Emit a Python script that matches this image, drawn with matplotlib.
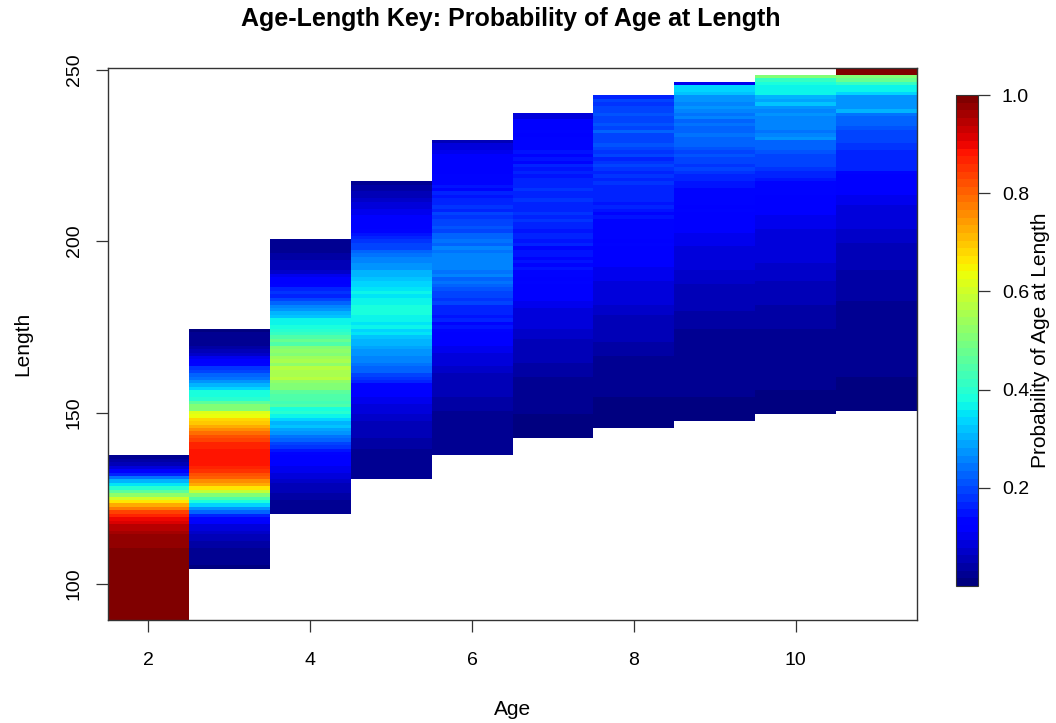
import numpy as np
import matplotlib
matplotlib.use("Agg")
import matplotlib.pyplot as plt

plt.rcParams['font.family'] = ['Liberation Sans', 'DejaVu Sans']

# === Données ===
ages = [2, 3, 4, 5, 6, 7, 8, 9, 10, 11]
# longueur maximale de chaque âge (les listes descendent d'un cm à chaque valeur)
top_lengths = [137, 174, 200, 217, 229, 237, 242, 246, 248, 250]

age2_probs = [0.02, 0.04, 0.06, 0.09, 0.12, 0.17, 0.24, 0.30, 0.35, 0.40,
              0.46, 0.53, 0.60, 0.66, 0.72, 0.78, 0.83, 0.87, 0.90, 0.92,
              0.94, 0.95, 0.96, 0.97, 0.98, 0.98, 0.98, 0.99, 0.99, 0.99,
              0.99, 0.99, 0.99, 1.00, 1.00, 1.00, 1.00, 1.00, 1.00, 1.00,
              1.00, 1.00, 1.00, 1.00, 1.00, 1.00, 1.00, 1.00]
age3_probs = [0.01, 0.02, 0.02, 0.03, 0.03, 0.04, 0.05, 0.07, 0.10, 0.12,
              0.14, 0.18, 0.20, 0.22, 0.24, 0.28, 0.30, 0.33, 0.38, 0.39,
              0.40, 0.46, 0.50, 0.50, 0.62, 0.64, 0.68, 0.70, 0.72, 0.76,
              0.79, 0.82, 0.84, 0.86, 0.87, 0.88, 0.88, 0.88, 0.88, 0.88,
              0.87, 0.85, 0.82, 0.80, 0.76, 0.72, 0.66, 0.58, 0.50, 0.44,
              0.38, 0.33, 0.28, 0.22, 0.17, 0.13, 0.11, 0.09, 0.08, 0.07,
              0.06, 0.05, 0.04, 0.04, 0.03, 0.03, 0.02, 0.02, 0.02, 0.01]
age4_probs = [0.02, 0.02, 0.03, 0.03, 0.04, 0.04, 0.05, 0.05, 0.06, 0.07,
              0.10, 0.11, 0.12, 0.13, 0.16, 0.18, 0.17, 0.20, 0.22, 0.26,
              0.28, 0.30, 0.32, 0.36, 0.37, 0.38, 0.40, 0.41, 0.44, 0.47,
              0.45, 0.50, 0.52, 0.50, 0.54, 0.56, 0.53, 0.57, 0.56, 0.55,
              0.57, 0.52, 0.50, 0.50, 0.46, 0.44, 0.45, 0.43, 0.44, 0.38,
              0.40, 0.36, 0.33, 0.30, 0.32, 0.29, 0.28, 0.24, 0.22, 0.20,
              0.18, 0.15, 0.13, 0.12, 0.11, 0.11, 0.10, 0.10, 0.09, 0.08,
              0.07, 0.06, 0.05, 0.05, 0.04, 0.04, 0.03, 0.03, 0.02, 0.02]
age5_probs = [0.03, 0.04, 0.04, 0.05, 0.06, 0.07, 0.08, 0.09, 0.10, 0.10,
              0.11, 0.11, 0.12, 0.12, 0.13, 0.15, 0.16, 0.18, 0.19, 0.20,
              0.22, 0.24, 0.26, 0.25, 0.27, 0.28, 0.30, 0.31, 0.32, 0.33,
              0.34, 0.35, 0.36, 0.35, 0.37, 0.36, 0.38, 0.39, 0.38, 0.36,
              0.37, 0.35, 0.36, 0.34, 0.35, 0.32, 0.30, 0.31, 0.29, 0.28,
              0.28, 0.26, 0.25, 0.24, 0.22, 0.22, 0.20, 0.18, 0.16, 0.14,
              0.13, 0.12, 0.11, 0.10, 0.10, 0.09, 0.08, 0.08, 0.07, 0.07,
              0.06, 0.06, 0.05, 0.05, 0.05, 0.04, 0.04, 0.04, 0.03, 0.03,
              0.03, 0.03, 0.02, 0.02, 0.02, 0.02, 0.02]
age6_probs = [0.06, 0.08, 0.09, 0.10, 0.11, 0.11, 0.12, 0.11, 0.12, 0.12,
              0.13, 0.14, 0.13, 0.15, 0.14, 0.16, 0.15, 0.17, 0.16, 0.18,
              0.17, 0.19, 0.18, 0.20, 0.19, 0.21, 0.20, 0.22, 0.22, 0.24,
              0.23, 0.25, 0.24, 0.26, 0.25, 0.26, 0.25, 0.26, 0.24, 0.25,
              0.23, 0.24, 0.22, 0.21, 0.20, 0.19, 0.18, 0.19, 0.17, 0.16,
              0.17, 0.15, 0.16, 0.14, 0.15, 0.13, 0.12, 0.12, 0.11, 0.11,
              0.10, 0.10, 0.09, 0.09, 0.08, 0.08, 0.07, 0.07, 0.06, 0.06,
              0.06, 0.05, 0.05, 0.05, 0.05, 0.04, 0.04, 0.04, 0.04, 0.03,
              0.03, 0.03, 0.03, 0.03, 0.03, 0.02, 0.02, 0.02, 0.02, 0.02,
              0.02, 0.02]
age7_probs = [0.08, 0.09, 0.11, 0.12, 0.11, 0.13, 0.12, 0.13, 0.13, 0.14,
              0.13, 0.15, 0.14, 0.15, 0.14, 0.16, 0.15, 0.16, 0.15, 0.17,
              0.16, 0.17, 0.18, 0.16, 0.17, 0.18, 0.17, 0.16, 0.17, 0.18,
              0.17, 0.18, 0.16, 0.17, 0.15, 0.16, 0.17, 0.15, 0.16, 0.14,
              0.15, 0.15, 0.14, 0.15, 0.14, 0.15, 0.14, 0.13, 0.12, 0.13,
              0.12, 0.12, 0.11, 0.11, 0.11, 0.10, 0.10, 0.09, 0.09, 0.09,
              0.08, 0.08, 0.08, 0.07, 0.07, 0.07, 0.06, 0.06, 0.06, 0.05,
              0.05, 0.05, 0.05, 0.04, 0.04, 0.04, 0.04, 0.03, 0.03, 0.03,
              0.03, 0.03, 0.02, 0.02, 0.02, 0.02, 0.02, 0.02, 0.01, 0.01,
              0.01, 0.01, 0.01, 0.01, 0.01]
age8_probs = [0.17, 0.19, 0.18, 0.20, 0.19, 0.21, 0.20, 0.19, 0.21, 0.20,
              0.22, 0.20, 0.19, 0.20, 0.21, 0.19, 0.18, 0.19, 0.17, 0.18,
              0.20, 0.18, 0.17, 0.18, 0.17, 0.18, 0.16, 0.17, 0.16, 0.17,
              0.16, 0.15, 0.16, 0.15, 0.14, 0.15, 0.14, 0.14, 0.13, 0.14,
              0.13, 0.13, 0.12, 0.13, 0.12, 0.12, 0.12, 0.11, 0.11, 0.11,
              0.10, 0.10, 0.10, 0.10, 0.09, 0.09, 0.09, 0.09, 0.08, 0.08,
              0.08, 0.07, 0.07, 0.07, 0.06, 0.06, 0.06, 0.06, 0.05, 0.05,
              0.05, 0.05, 0.04, 0.04, 0.04, 0.04, 0.03, 0.03, 0.03, 0.03,
              0.03, 0.02, 0.02, 0.02, 0.02, 0.02, 0.02, 0.02, 0.01, 0.01,
              0.01, 0.01, 0.01, 0.01, 0.01, 0.01, 0.01]
age9_probs = [0.10, 0.33, 0.34, 0.32, 0.27, 0.28, 0.26, 0.27, 0.25, 0.24,
              0.25, 0.23, 0.24, 0.22, 0.23, 0.24, 0.22, 0.23, 0.22, 0.21,
              0.20, 0.21, 0.19, 0.20, 0.18, 0.19, 0.18, 0.17, 0.16, 0.15,
              0.15, 0.14, 0.14, 0.13, 0.14, 0.13, 0.12, 0.13, 0.12, 0.12,
              0.11, 0.11, 0.11, 0.11, 0.10, 0.10, 0.10, 0.10, 0.09, 0.09,
              0.09, 0.09, 0.08, 0.08, 0.08, 0.07, 0.07, 0.07, 0.07, 0.06,
              0.06, 0.06, 0.06, 0.05, 0.05, 0.05, 0.05, 0.04, 0.04, 0.04,
              0.04, 0.04, 0.03, 0.03, 0.03, 0.03, 0.03, 0.03, 0.03, 0.03,
              0.03, 0.03, 0.02, 0.02, 0.02, 0.02, 0.02, 0.02, 0.02, 0.02,
              0.02, 0.02, 0.01, 0.01, 0.01, 0.01, 0.01, 0.01, 0.01]
age10_probs = [0.50, 0.42, 0.38, 0.37, 0.37, 0.36, 0.30, 0.29, 0.32, 0.27,
               0.26, 0.27, 0.26, 0.25, 0.26, 0.25, 0.24, 0.25, 0.28, 0.23,
               0.22, 0.22, 0.21, 0.20, 0.20, 0.19, 0.19, 0.18, 0.17, 0.17,
               0.15, 0.14, 0.14, 0.13, 0.13, 0.12, 0.12, 0.12, 0.11, 0.11,
               0.11, 0.10, 0.10, 0.10, 0.10, 0.09, 0.09, 0.09, 0.09, 0.09,
               0.08, 0.08, 0.08, 0.08, 0.08, 0.07, 0.07, 0.07, 0.07, 0.07,
               0.06, 0.06, 0.06, 0.05, 0.05, 0.05, 0.05, 0.04, 0.04, 0.04,
               0.04, 0.04, 0.04, 0.04, 0.03, 0.03, 0.03, 0.03, 0.03, 0.03,
               0.03, 0.03, 0.03, 0.03, 0.02, 0.02, 0.02, 0.02, 0.02, 0.02,
               0.02, 0.02, 0.01, 0.01, 0.01, 0.01, 0.01, 0.01, 0.01]
age11_probs = [1.00, 1.00, 0.50, 0.47, 0.42, 0.37, 0.36, 0.34, 0.28, 0.27,
               0.27, 0.28, 0.31, 0.24, 0.23, 0.22, 0.22, 0.21, 0.20, 0.20,
               0.19, 0.19, 0.18, 0.18, 0.17, 0.17, 0.17, 0.16, 0.16, 0.17,
               0.13, 0.12, 0.12, 0.12, 0.11, 0.11, 0.11, 0.10, 0.10, 0.10,
               0.09, 0.09, 0.09, 0.08, 0.08, 0.08, 0.08, 0.07, 0.07, 0.07,
               0.07, 0.06, 0.06, 0.06, 0.06, 0.05, 0.05, 0.05, 0.05, 0.04,
               0.04, 0.04, 0.04, 0.04, 0.04, 0.04, 0.04, 0.04, 0.03, 0.03,
               0.03, 0.03, 0.03, 0.03, 0.03, 0.03, 0.03, 0.03, 0.03, 0.03,
               0.02, 0.02, 0.02, 0.02, 0.02, 0.02, 0.02, 0.02, 0.02, 0.02,
               0.01, 0.01, 0.01, 0.01, 0.01, 0.01, 0.01, 0.01, 0.01, 0.01]

all_probs = [age2_probs, age3_probs, age4_probs, age5_probs, age6_probs,
             age7_probs, age8_probs, age9_probs, age10_probs, age11_probs]

# === Matrice longueur x âge ===
lengths = np.arange(90, 251)
grid = np.full((len(lengths), len(ages)), np.nan)
for j, (top, probs) in enumerate(zip(top_lengths, all_probs)):
    for k, p in enumerate(probs):
        grid[top - k - 90, j] = p
grid = np.ma.masked_invalid(grid)

age_edges = np.arange(ages[0] - 0.5, ages[-1] + 1.0)
length_edges = np.arange(lengths[0] - 0.5, lengths[-1] + 1.0)

cmap = plt.get_cmap('jet', 64)

# === Figure ===
fig = plt.figure(figsize=(10.56, 7.23), dpi=100)
ax = fig.add_axes([108 / 1056, 1 - 620 / 723, 809 / 1056, 552 / 723])
mesh = ax.pcolormesh(age_edges, length_edges, grid, cmap=cmap, vmin=0, vmax=1)

ax.set_xlim(age_edges[0], age_edges[-1])
ax.set_ylim(length_edges[0], length_edges[-1])
ax.set_xticks([2, 4, 6, 8, 10])
ax.set_yticks([100, 150, 200, 250])
ax.tick_params(length=8.6, width=0.9, color='#333333', labelsize=14)
ax.tick_params(axis='x', pad=14.4)
ax.tick_params(axis='y', pad=9.4, labelrotation=90)
for lab in ax.get_yticklabels():
    lab.set_va('center')
for s in ax.spines.values():
    s.set_color('#333333')
    s.set_linewidth(1.0)

ax.set_xlabel('Age', fontsize=15)
ax.xaxis.set_label_coords(0.5, -0.145)
ax.set_ylabel('Length', fontsize=15)
ax.yaxis.set_label_coords(-0.094, 0.5)
fig.text(511 / 1056, 1 - 19 / 723, 'Age-Length Key: Probability of Age at Length',
         ha='center', va='center', fontsize=18, fontweight='bold')

# === Barre de couleur ===
cax = fig.add_axes([956 / 1056, 1 - 586 / 723, 22 / 1056, 491 / 723])
cb = fig.colorbar(mesh, cax=cax)
cb.set_ticks([0.2, 0.4, 0.6, 0.8, 1.0])
cb.set_ticklabels(['0.2', '0.4', '0.6', '0.8', '1.0'])
cax.tick_params(length=8.6, width=0.9, color='#333333', labelsize=14, pad=8.6)
cb.outline.set_edgecolor('#333333')
fig.text(1040 / 1056, 1 - 340 / 723, 'Probability of Age at Length',
         rotation=90, ha='center', va='center', fontsize=15)

fig.savefig('out.png', dpi=100)
